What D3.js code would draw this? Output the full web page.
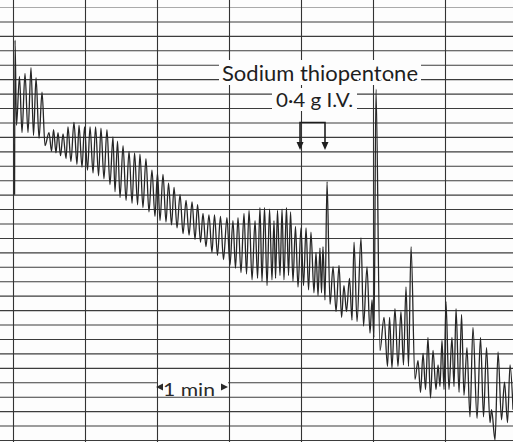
<!DOCTYPE html>
<html>
<head>
<meta charset="utf-8">
<script src="https://cdn.jsdelivr.net/npm/d3@7"></script>
<style>
  body { margin: 0; background: #fff; }
  svg { display: block; }
</style>
</head>
<body>
<div id="chart"></div>
<script>
// Trace.
// time: seconds from the first minute line, level: recorder units (10 = one division, 0 = bottom line)
var startTime  = [1.3, 1.7];
var startLevel = [170, 277];

var troughTime = [2.9, 7.5, 12.5, 17.1, 21.7, 26.7, 32.1, 35.8, 39.6, 44.2, 48.3, 53.3, 57.5, 62.1, 66.7,
  71.3, 75.8, 80.8, 85.0, 89.2, 94.2, 99.2, 103.8, 108.3, 113.3, 118.3, 122.5, 127.5, 132.1, 136.7,
  141.7, 146.7, 151.7, 156.3, 160.8, 165.8, 170.4, 175.4, 180.8, 185.4, 190.0, 194.6, 199.2, 203.8,
  207.5, 211.7, 215.8, 218.8, 222.5, 225.8, 229.6, 233.3, 237.5, 242.1, 246.3, 250.8, 254.2, 257.1,
  260.0, 264.2, 269.2, 273.8, 277.9, 282.5, 286.7, 292.1, 297.5, 300.8, 305.8, 312.1, 315.8, 320.8,
  325.4, 329.6, 335.0, 339.6, 343.8, 347.9, 352.5, 355.8, 359.2, 363.3, 367.5, 371.7, 375.8, 380.8,
  386.7, 392.1, 397.5, 401.7, 407.1, 412.1, 416.7];
var troughLevel = [218, 213, 213, 211, 209, 204, 200, 199, 197, 195, 193, 191, 189, 187, 185,
  183, 181, 177, 172, 168, 166, 164, 163, 161, 158, 155, 152, 151, 149, 147,
  143, 142, 139, 137, 134, 130, 128, 125, 121, 119, 116, 115, 111, 112,
  110, 107, 111, 112, 114, 111, 114, 110, 106, 107, 104, 102, 100, 102,
  97, 94, 89, 85, 89, 83, 82, 79, 74, 71, 62, 51, 50, 51,
  52, 51, 42, 33, 35, 29, 35, 37, 35, 35, 37, 33, 31, 16,
  15, 16, 12, 0, 14, 12, 21];

var peakTime = [5.4, 10.0, 15.0, 19.2, 24.2, 30.0, 33.8, 37.5, 41.7, 45.8, 50.8, 55.0, 59.6, 64.2, 68.8,
  73.3, 78.3, 83.3, 87.1, 91.7, 96.7, 101.3, 105.8, 110.8, 115.8, 120.4, 125.0, 129.6, 134.2, 139.2,
  144.2, 149.2, 153.8, 158.3, 163.3, 167.9, 172.9, 178.3, 183.3, 187.5, 192.5, 196.7, 201.7, 205.8,
  209.6, 213.8, 217.5, 220.4, 224.2, 227.9, 231.3, 235.4, 240.0, 244.2, 248.3, 252.5, 255.8, 258.3,
  261.7, 266.7, 271.7, 275.8, 280.4, 284.2, 290.0, 295.0, 299.2, 302.5, 309.2, 313.8, 318.3, 323.3,
  327.5, 331.7, 337.5, 341.7, 345.8, 350.0, 354.2, 357.5, 360.8, 365.8, 369.2, 373.8, 378.3, 383.3,
  389.6, 394.6, 398.8, 404.2, 409.6, 414.2];
var peakLevel = [252, 254, 258, 251, 241, 213, 215, 213, 212, 217, 220, 218, 217, 217, 217,
  216, 215, 210, 207, 204, 200, 199, 198, 195, 187, 185, 184, 178, 175, 170,
  166, 165, 163, 157, 156, 156, 155, 154, 152, 154, 157, 159, 152, 161,
  161, 160, 152, 159, 160, 161, 158, 148, 147, 147, 144, 130, 133, 134,
  179, 120, 121, 107, 112, 137, 140, 120, 97, 243, 85, 85, 91, 89,
  106, 134, 55, 60, 71, 62, 52, 69, 96, 71, 91, 87, 64, 78,
  71, 64, 21, 61, 40, 52];

// chart paper: minute lines and division lines
var minuteTicks = [0, 60, 120, 180, 240, 300, 360];
var levelTicks = d3.range(0, 301, 10);

// injection marks (seconds) and the "1 min" bar
var injectTimes = [239.2, 260];
var barTimes = [120, 180];

var width = 513, height = 442;
var x = d3.scaleLinear().domain([0, 360]).range([13, 445]);
var y = d3.scaleLinear().domain([0, 300]).range([440, 7]);

var svg = d3.select("#chart").append("svg")
  .attr("width", width).attr("height", height)
  .style("font-family", "Lato, 'Open Sans', sans-serif");

svg.append("rect").attr("width", width).attr("height", height).attr("fill", "#fdfdfd");

// horizontal division lines
var yAxis = svg.append("g")
  .attr("transform", "translate(0,0)")
  .call(d3.axisRight(y).tickValues(levelTicks).tickSize(width).tickFormat(""));
yAxis.select(".domain").remove();
yAxis.selectAll(".tick line")
  .attr("stroke", function(d) { return d === 300 ? "#aaa" : "#3c3c3c"; })
  .attr("stroke-width", 1.1);

// vertical minute lines
var xAxis = svg.append("g")
  .attr("transform", "translate(0," + height + ")")
  .call(d3.axisTop(x).tickValues(minuteTicks).tickSize(height).tickFormat(""));
xAxis.select(".domain").remove();
xAxis.selectAll(".tick line").attr("stroke", "#333").attr("stroke-width", 1.1);

// the pen trace
var pts = [];
startTime.forEach(function(t, i) { pts.push([t, startLevel[i]]); });
troughTime.forEach(function(t, i) { pts.push([t, troughLevel[i]]); });
peakTime.forEach(function(t, i) { pts.push([t, peakLevel[i]]); });
pts.sort(function(a, b) { return a[0] - b[0]; });

var line = d3.line()
  .x(function(d) { return x(d[0]); })
  .y(function(d) { return y(d[1]); })
  .curve(d3.curveMonotoneX);

svg.append("path")
  .datum(pts)
  .attr("d", line)
  .attr("fill", "none")
  .attr("stroke", "#262626")
  .attr("stroke-width", 1.3)
  .attr("stroke-linejoin", "round");

// labels pasted on the paper
svg.append("rect").attr("x", 219).attr("y", 60).attr("width", 202).attr("height", 25).attr("fill", "#fdfdfd");
svg.append("text")
  .attr("x", 222).attr("y", 81)
  .attr("font-size", 21).attr("fill", "#1e1e1e")
  .attr("textLength", 196).attr("lengthAdjust", "spacingAndGlyphs")
  .text("Sodium thiopentone");

svg.append("rect").attr("x", 272).attr("y", 88).attr("width", 85).attr("height", 23).attr("fill", "#fdfdfd");
svg.append("text")
  .attr("x", 276).attr("y", 107)
  .attr("font-size", 19).attr("fill", "#1e1e1e")
  .attr("textLength", 77).attr("lengthAdjust", "spacingAndGlyphs")
  .text("0·4 g I.V.");
svg.append("line")
  .attr("x1", 357).attr("x2", 420).attr("y1", y(250)).attr("y2", y(250))
  .attr("stroke", "#fdfdfd").attr("stroke-width", 2).attr("stroke-dasharray", "2 9");

// injection bracket with arrows
var bTop = y(220), bTip = y(201);
svg.append("path")
  .attr("d", "M" + x(injectTimes[0]) + "," + (bTip - 6) + "V" + bTop + "H" + x(injectTimes[1]) + "V" + (bTip - 6))
  .attr("fill", "none").attr("stroke", "#1e1e1e").attr("stroke-width", 1.6);
injectTimes.forEach(function(t) {
  var cx = x(t);
  svg.append("path")
    .attr("d", "M" + (cx - 3.5) + "," + (bTip - 8) + "L" + (cx + 3.5) + "," + (bTip - 8) + "L" + cx + "," + bTip + "Z")
    .attr("fill", "#1e1e1e");
});

// 1 min bar
svg.append("rect").attr("x", x(barTimes[0]) + 1).attr("y", 375).attr("width", x(barTimes[1]) - x(barTimes[0]) - 2).attr("height", 19).attr("fill", "#fdfdfd");
var by = 387;
svg.append("path")
  .attr("d", "M" + (x(barTimes[0]) - 1) + "," + by + "L" + (x(barTimes[0]) + 6) + "," + (by - 3.5) + "L" + (x(barTimes[0]) + 6) + "," + (by + 3.5) + "Z")
  .attr("fill", "#2a2a2a");
svg.append("path")
  .attr("d", "M" + (x(barTimes[1]) - 1) + "," + by + "L" + (x(barTimes[1]) - 8) + "," + (by - 3.5) + "L" + (x(barTimes[1]) - 8) + "," + (by + 3.5) + "Z")
  .attr("fill", "#2a2a2a");
svg.append("text")
  .attr("x", 163).attr("y", 396)
  .attr("font-size", 18).attr("fill", "#2a2a2a")
  .attr("textLength", 52).attr("lengthAdjust", "spacingAndGlyphs")
  .text("1 min");
</script>
</body>
</html>
